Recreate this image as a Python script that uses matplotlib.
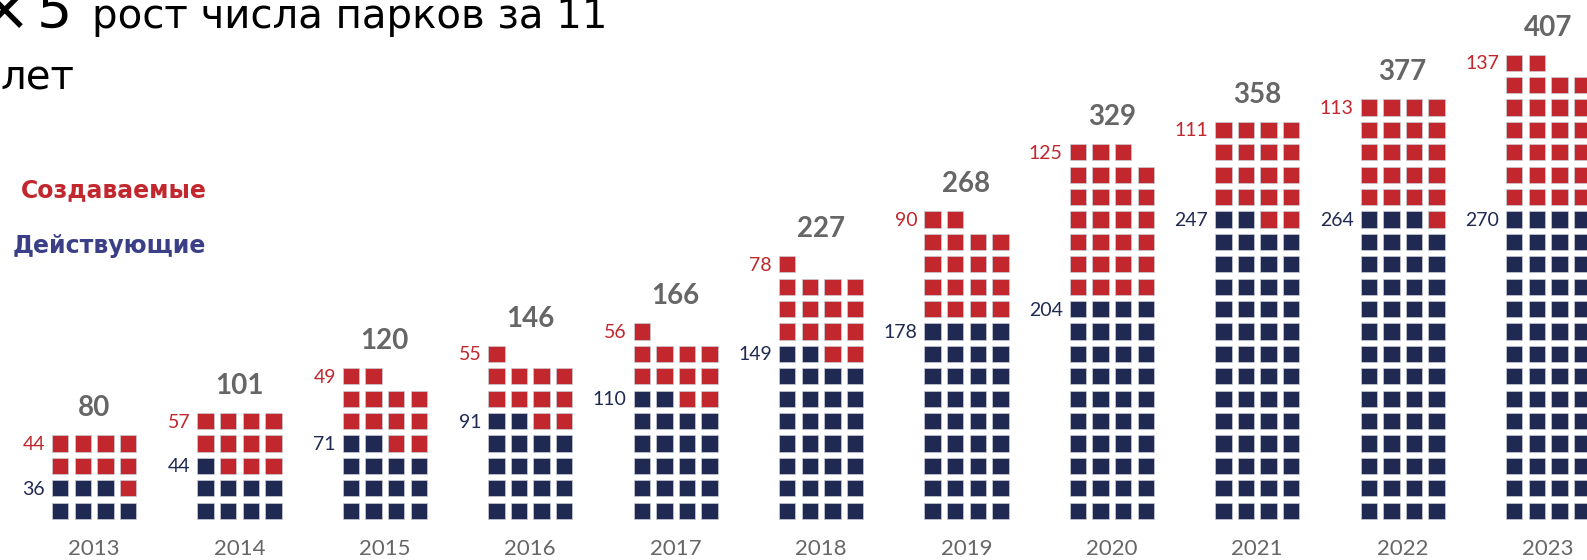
import matplotlib.pyplot as plt
from matplotlib.patches import Rectangle

# Park counts per year (labels) and squares drawn in the waffle
years = ['2013', '2014', '2015', '2016', '2017', '2018', '2019', '2020', '2021', '2022', '2023']
totals = [80, 101, 120, 146, 166, 227, 268, 329, 358, 377, 407]
active = [36, 44, 71, 91, 110, 149, 178, 204, 247, 264, 270]      # Действующие
created = [44, 57, 49, 55, 56, 78, 90, 125, 111, 113, 137]       # Создаваемые
active_squares = [7, 9, 14, 18, 22, 30, 36, 40, 54, 55, 56]
created_squares = [9, 11, 12, 11, 11, 15, 18, 27, 18, 21, 26]

RED = '#c1272d'
NAVY = '#1f2951'
INDIGO = '#3b3f86'
GREY = '#666666'

NUM_FONT = ['Lato', 'DejaVu Sans']
TITLE_FONT = ['DejaVu Sans']

# layout in pixels (figure is 1587 x 560)
GROUP_X0, GROUP_STEP = 52, 145.4
PITCH_X, PITCH_Y, SQ = 22.6, 22.4, 16.3
BOTTOM_ROW = 502.5
COLS = 4

fig = plt.figure(figsize=(15.87, 5.6), dpi=100)
ax = fig.add_axes([0, 0, 1, 1])
ax.set_xlim(0, 1587)
ax.set_ylim(560, 0)
ax.axis('off')

for i, year in enumerate(years):
    x0 = GROUP_X0 + i * GROUP_STEP
    n_act = active_squares[i]
    n_all = n_act + created_squares[i]
    for k in range(n_all):
        row, col = divmod(k, COLS)
        color = NAVY if k < n_act else RED
        ax.add_patch(Rectangle((x0 + col * PITCH_X, BOTTOM_ROW - row * PITCH_Y), SQ, SQ,
                               facecolor=color, edgecolor='#c9ccd6', linewidth=0.5))

    cx = x0 + ((COLS - 1) * PITCH_X + SQ) / 2
    top_row = (n_all - 1) // COLS
    act_row = (n_act - 1) // COLS
    top_y = BOTTOM_ROW - top_row * PITCH_Y

    # total above the stack
    ax.text(cx, top_y - 19, str(totals[i]), ha='center', va='baseline',
            fontsize=20, fontweight='bold', color=GREY, family=NUM_FONT)
    # created / active labels at the left
    ax.text(x0 - 7, top_y + SQ / 2 + 6.5, str(created[i]), ha='right', va='baseline',
            fontsize=14, color=RED, family=NUM_FONT)
    ax.text(x0 - 7, BOTTOM_ROW - act_row * PITCH_Y + SQ / 2 + 6.5, str(active[i]),
            ha='right', va='baseline', fontsize=14, color=NAVY, family=NUM_FONT)
    # year
    ax.text(cx, 555, year, ha='center', va='baseline', fontsize=16, color=GREY, family=NUM_FONT)

# legend
ax.text(21, 197, 'Создаваемые', ha='left', va='baseline', fontsize=17, fontweight='bold',
        color=RED, family=TITLE_FONT)
ax.text(13, 253, 'Действующие', ha='left', va='baseline', fontsize=17, fontweight='bold',
        color=INDIGO, family=TITLE_FONT)

# title (cropped at the left edge like the original)
ax.text(31, 30, '×', ha='right', va='baseline', fontsize=46, color='black', family=TITLE_FONT)
ax.text(37, 28, '5', ha='left', va='baseline', fontsize=40, color='black', family=TITLE_FONT)
ax.text(92, 28, 'рост числа парков за 11', ha='left', va='baseline', fontsize=29,
        color='black', family=TITLE_FONT)
ax.text(0, 89, 'лет', ha='left', va='baseline', fontsize=29, color='black', family=TITLE_FONT)

fig.savefig('out.png', dpi=100, facecolor='white')
